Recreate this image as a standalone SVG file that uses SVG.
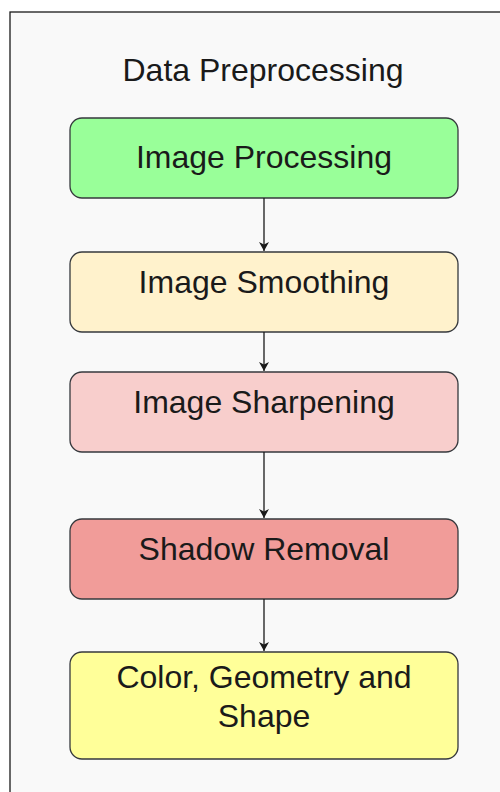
<svg xmlns="http://www.w3.org/2000/svg" width="500" height="792" viewBox="0 0 500 792">
  <style>
    .frame { fill: #f9f9f9; stroke: #1a1a1a; stroke-width: 1.3; }
    .box { stroke: #36393d; stroke-width: 1.3; }
    .label { font-family: "Liberation Sans", Arial, sans-serif; font-size: 32px; fill: #1a1a1a; text-anchor: middle; }
    .edge { stroke: #1a1a1a; stroke-width: 1.3; fill: none; marker-end: url(#arrow); }
  </style>
  <defs>
    <marker id="arrow" markerWidth="10" markerHeight="10" refX="9" refY="5" orient="auto" markerUnits="userSpaceOnUse">
      <path d="M0,0 L9,5 L0,10 L2.5,5 Z" fill="#1a1a1a"/>
    </marker>
  </defs>

  <!-- container -->
  <g id="container">
    <rect class="frame" x="10" y="12" width="520" height="800"/>
    <text class="label" x="263" y="81">Data Preprocessing</text>
  </g>

  <g id="image-processing">
    <rect class="box" x="70" y="118" width="388" height="80" rx="12" fill="#99ff99"/>
    <text class="label" x="264" y="168">Image Processing</text>
  </g>

  <g id="image-smoothing">
    <rect class="box" x="70" y="252" width="388" height="80" rx="12" fill="#fff2cc"/>
    <text class="label" x="264" y="293">Image Smoothing</text>
  </g>

  <g id="image-sharpening">
    <rect class="box" x="70" y="372" width="388" height="80" rx="12" fill="#f8cecc"/>
    <text class="label" x="264" y="413">Image Sharpening</text>
  </g>

  <g id="shadow-removal">
    <rect class="box" x="70" y="519" width="388" height="80" rx="12" fill="#f19c99"/>
    <text class="label" x="264" y="560">Shadow Removal</text>
  </g>

  <g id="color-geometry-shape">
    <rect class="box" x="70" y="652" width="388" height="107" rx="12" fill="#ffff99"/>
    <text class="label" x="264" y="688">Color, Geometry and</text>
    <text class="label" x="264" y="727">Shape</text>
  </g>

  <g id="connectors">
    <path class="edge" d="M264,198 L264,251"/>
    <path class="edge" d="M264,332 L264,371"/>
    <path class="edge" d="M264,452 L264,518"/>
    <path class="edge" d="M264,599 L264,651"/>
  </g>
</svg>
